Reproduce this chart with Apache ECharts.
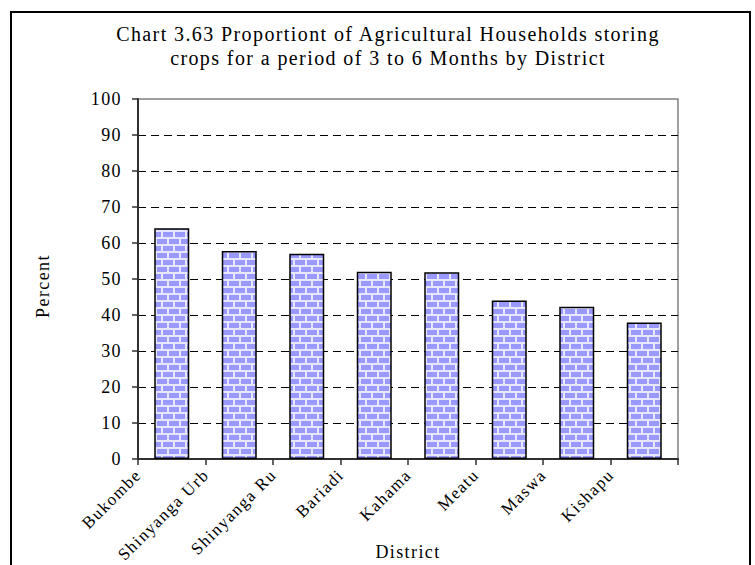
<!DOCTYPE html>
<html>
<head>
<meta charset="utf-8">
<script src="https://cdn.jsdelivr.net/npm/echarts@6/dist/echarts.min.js"></script>
<style>
  html, body { margin: 0; padding: 0; background: #fff; }
  #main { width: 755px; height: 565px; }
  #main text { letter-spacing: 1.4px; }
</style>
</head>
<body>
<div id="main"></div>
<script>
var titleLines = ['Chart 3.63 Proportiont of Agricultural Households storing',
                  'crops for a period of 3 to 6 Months by District'];
var districts = ['Bukombe', 'Shinyanga Urban', 'Shinyanga Rural', 'Bariadi', 'Kahama', 'Meatu', 'Maswa', 'Kishapu'];
// labels as printed (the two long ones are clipped in the original)
var tickLabels = ['Bukombe', 'Shinyanga Urb', 'Shinyanga Ru', 'Bariadi', 'Kahama', 'Meatu', 'Maswa', 'Kishapu'];
var percent = [64.1, 57.8, 57.0, 52.0, 51.9, 44.0, 42.3, 37.9];

// brick fill like the excel pattern
function brickTile() {
    var c = document.createElement('canvas');
    c.width = 24; c.height = 14;
    var g = c.getContext('2d');
    g.fillStyle = '#e6e6ff';
    g.fillRect(0, 0, 24, 14);
    g.fillStyle = '#9999ff';
    g.fillRect(1, 1, 10, 5);
    g.fillRect(13, 1, 10, 5);
    g.fillRect(7, 8, 10, 5);
    g.fillRect(19, 8, 5, 5);
    g.fillRect(0, 8, 5, 5);
    return c;
}

var serif = 'Liberation Serif';
var dom = document.getElementById('main');
var myChart = echarts.init(dom, null, { renderer: 'svg' });

var option = {
    animation: false,
    backgroundColor: '#fff',
    title: {
        text: titleLines.join('\n'),
        left: 383,
        top: 17,
        textAlign: 'center',
        textStyle: {
            fontFamily: serif,
            fontSize: 20,
            fontWeight: 'normal',
            lineHeight: 24,
            color: '#000'
        }
    },
    graphic: [{
        type: 'rect',
        shape: { x: 11, y: 12, width: 739, height: 600 },
        style: { fill: 'none', stroke: '#000', lineWidth: 2 },
        silent: true
    }],
    grid: {
        left: 138,
        right: 77,
        top: 99,
        bottom: 106,
        outerBoundsMode: 'none',
        containLabel: false,
        show: true,
        borderColor: '#808080',
        borderWidth: 1.5
    },
    xAxis: {
        type: 'category',
        data: districts,
        boundaryGap: true,
        name: 'District',
        nameLocation: 'middle',
        nameGap: 84,
        nameMoveOverlap: false,
        nameTextStyle: { fontFamily: serif, fontSize: 18, color: '#000' },
        axisLine: { lineStyle: { color: '#303030', width: 2 } },
        axisTick: { show: true, length: 6, lineStyle: { color: '#303030', width: 1.5 } },
        axisLabel: {
            interval: 0,
            rotate: 45,
            margin: -20,
            align: 'right',
            verticalAlign: 'middle',
            padding: [0, 47, 0, 0],
            fontFamily: serif,
            fontSize: 17,
            color: '#000',
            formatter: function (v, i) { return tickLabels[i]; }
        }
    },
    yAxis: {
        type: 'value',
        min: 0,
        max: 100,
        interval: 10,
        name: 'Percent',
        nameLocation: 'middle',
        nameGap: 86,
        nameMoveOverlap: false,
        nameTextStyle: { fontFamily: serif, fontSize: 18, color: '#000', padding: [0, 14, 0, 0] },
        axisLine: { show: true, lineStyle: { color: '#303030', width: 2 } },
        axisTick: { show: true, length: 6, lineStyle: { color: '#303030', width: 1.5 } },
        axisLabel: { margin: 16, fontFamily: serif, fontSize: 18, color: '#000' },
        splitLine: {
            show: true,
            showMaxLine: false,
            lineStyle: { color: '#000', width: 1, type: [8, 5] }
        }
    },
    series: [{
        name: 'Percent',
        type: 'bar',
        data: percent,
        barWidth: 35,
        itemStyle: {
            color: { image: brickTile(), repeat: 'repeat' },
            borderColor: '#000',
            borderWidth: 1.5
        }
    }]
};

myChart.setOption(option);
</script>
</body>
</html>
